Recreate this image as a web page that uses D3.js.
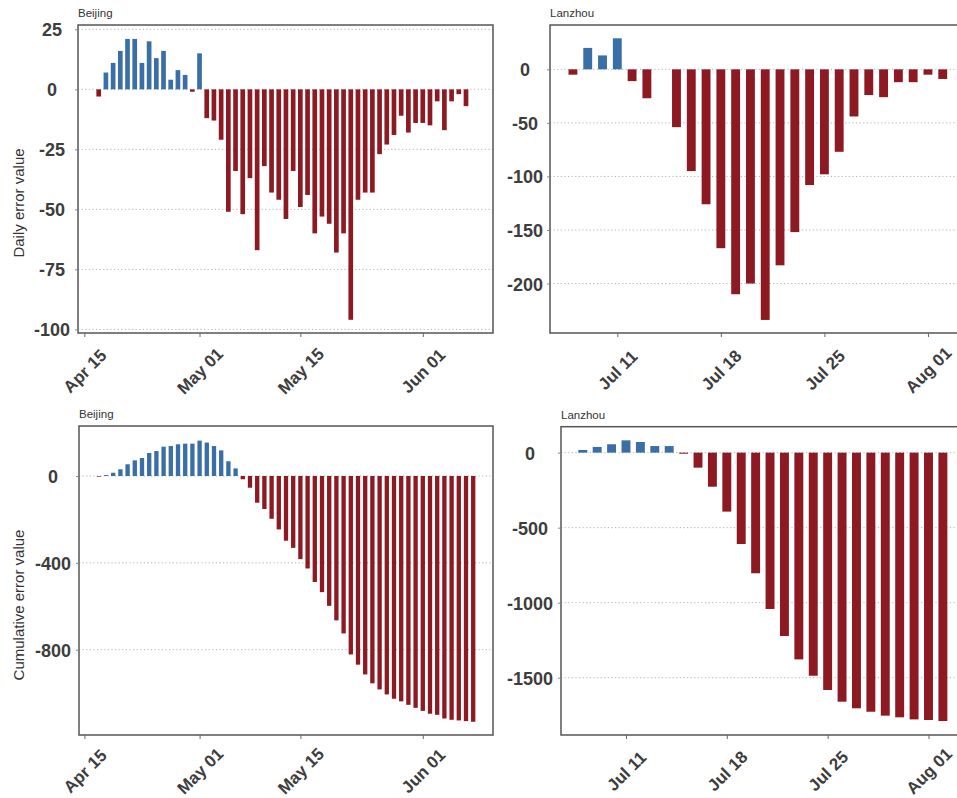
<!DOCTYPE html>
<html>
<head>
<meta charset="utf-8">
<script src="https://cdn.jsdelivr.net/npm/d3@7"></script>
<style>
  body { margin: 0; background: #fff; }
  svg { display: block; font-family: "Liberation Sans", Arial, sans-serif; }
</style>
</head>
<body>
<script>
// ---- data ----
let bjDailyStart = "2022-04-17";
let bjDaily = [-3, 7, 11, 16, 21, 21, 11, 20, 13, 16, 4, 8, 6, -1, 15,
  -12, -13, -21, -51, -34, -52, -37, -67, -32, -43, -46, -54, -34, -49, -44,
  -60, -53, -56, -68, -60, -96, -46, -43, -43, -27, -23, -19, -11, -18, -14,
  -14, -15, -5, -17, -5, -2, -7];

let bjCumStart = "2022-04-17";
let bjCum = [-3, 4, 15, 31, 54, 72, 83, 106, 115, 135, 138, 146, 149, 149, 163,
  154, 138, 118, 68, 35, -15, -54, -123, -152, -197, -246, -298, -331, -383, -426,
  -488, -535, -598, -665, -725, -822, -869, -914, -955, -983, -1006, -1026, -1038, -1054, -1068,
  -1082, -1095, -1100, -1117, -1123, -1126, -1129, -1132];

let lzDailyStart = "2022-07-08";
let lzDaily = [-5, 20, 13, 29, -11, -27, 0, -54, -95, -126, -167, -210, -200, -234,
  -183, -152, -108, -98, -77, -44, -24, -26, -12, -12, -5, -9];

let lzCumStart = "2022-07-08";
let lzCum = [18, 38, 56, 82, 71, 44, 44, -7, -100, -227, -393, -609, -804, -1042,
  -1222, -1378, -1487, -1582, -1660, -1704, -1727, -1753, -1764, -1778, -1782, -1789];

let bjTicks = ["2022-04-15", "2022-05-01", "2022-05-15", "2022-06-01"];
let lzTicks = ["2022-07-11", "2022-07-18", "2022-07-25", "2022-08-01"];
let bjDailyY = [25, 0, -25, -50, -75, -100];
let lzDailyY = [0, -50, -100, -150, -200];
let bjCumY = [0, -400, -800];
let lzCumY = [0, -500, -1000, -1500];

// ---- drawing ----
let w = 957, h = 798;
let blue = "#3a6ea7", red = "#8d1a23";
let parse = d3.timeParse("%Y-%m-%d %H:%M");
let parseDay = d3.timeParse("%Y-%m-%d");
let fmt = d3.timeFormat("%b %d");

let svg = d3.select("body").append("svg")
  .attr("width", w)
  .attr("height", h);

function panel(p) {
  let start = parseDay(p.start);
  let dates = d3.timeDay.range(start, d3.timeDay.offset(start, p.values.length));
  let data = dates.map((d, i) => ({date: d, v: p.values[i]}));

  let x = d3.scaleTime()
    .domain([parse(p.xDom[0]), parse(p.xDom[1])])
    .range([p.left, p.right]);
  let y = d3.scaleLinear()
    .domain(p.yDom)
    .range([p.bottom, p.top]);

  let g = svg.append("g");

  // dotted grid
  g.selectAll("line.grid")
    .data(p.yTicks)
    .enter()
    .append("line")
    .attr("class", "grid")
    .attr("x1", p.left)
    .attr("x2", Math.min(p.right, w))
    .attr("y1", d => y(d))
    .attr("y2", d => y(d))
    .attr("stroke", "#b3b3b3")
    .attr("stroke-width", 1)
    .attr("stroke-dasharray", "1.2,2.4");

  let dayW = x(d3.timeDay.offset(start, 1)) - x(start);
  let bw = dayW * p.barFrac;

  g.selectAll("rect.bar")
    .data(data.filter(d => d.v !== 0))
    .enter()
    .append("rect")
    .attr("class", "bar")
    .attr("x", d => x(d.date) - bw / 2)
    .attr("width", bw)
    .attr("y", d => y(Math.max(0, d.v)))
    .attr("height", d => Math.abs(y(d.v) - y(0)))
    .attr("fill", d => d.v > 0 ? blue : red);

  // box
  g.append("rect")
    .attr("x", p.left)
    .attr("y", p.top)
    .attr("width", p.right - p.left)
    .attr("height", p.bottom - p.top)
    .attr("fill", "none")
    .attr("stroke", "#555")
    .attr("stroke-width", 1.5);

  let yAxis = d3.axisLeft(y)
    .tickValues(p.yTicks)
    .tickFormat(d => String(d))
    .tickSize(3)
    .tickPadding(0);
  let ya = g.append("g")
    .attr("transform", "translate(" + p.left + ",0)")
    .call(yAxis);
  ya.select(".domain").remove();
  ya.selectAll(".tick line").attr("stroke", "#888");
  ya.selectAll(".tick text")
    .attr("x", p.labelX - p.left)
    .attr("text-anchor", "middle")
    .attr("dy", "0.36em")
    .attr("fill", "#3d3d3d")
    .style("font-size", "18px")
    .style("font-weight", "bold")
    .style("font-family", "Liberation Sans, Arial, sans-serif");

  let xAxis = d3.axisBottom(x)
    .tickValues(p.xTicks.map(parseDay))
    .tickFormat(fmt)
    .tickSize(4);
  let xa = g.append("g")
    .attr("transform", "translate(0," + p.bottom + ")")
    .call(xAxis);
  xa.select(".domain").remove();
  xa.selectAll(".tick line").attr("stroke", "#666");
  xa.selectAll(".tick text")
    .attr("x", 0)
    .attr("y", 0)
    .attr("dy", "0.35em")
    .attr("text-anchor", "middle")
    .attr("transform", "translate(0," + p.labelDy + ") rotate(-45)")
    .attr("fill", "#3d3d3d")
    .style("font-size", "17px")
    .style("font-weight", "bold")
    .style("font-family", "Liberation Sans, Arial, sans-serif");

  // small city title
  svg.append("text")
    .attr("x", p.left)
    .attr("y", p.top - 8)
    .attr("fill", "#333")
    .style("font-size", "11.5px")
    .text(p.title);

  if (p.yTitle) {
    svg.append("text")
      .attr("transform", "translate(" + 24 + "," + p.yTitleY + ") rotate(-90)")
      .attr("text-anchor", "middle")
      .attr("fill", "#333")
      .style("font-size", "15px")
      .text(p.yTitle);
  }
}

panel({
  title: "Beijing", start: bjDailyStart, values: bjDaily,
  xDom: ["2022-04-14 03:00", "2022-06-10 18:00"], xTicks: bjTicks,
  yDom: [-101.5, 26.8], yTicks: bjDailyY,
  left: 78, right: 493, top: 25, bottom: 333,
  labelX: 52, labelDy: 38, barFrac: 0.65,
  yTitle: "Daily error value", yTitleY: 203
});

panel({
  title: "Lanzhou", start: lzDailyStart, values: lzDaily,
  xDom: ["2022-07-06 10:48", "2022-08-03 04:00"], xTicks: lzTicks,
  yDom: [-246.2, 41.4], yTicks: lzDailyY,
  left: 550, right: 960, top: 25, bottom: 333,
  labelX: 525, labelDy: 37, barFrac: 0.6
});

panel({
  title: "Beijing", start: bjCumStart, values: bjCum,
  xDom: ["2022-04-14 06:00", "2022-06-10 18:00"], xTicks: bjTicks,
  yDom: [-1193, 230.3], yTicks: bjCumY,
  left: 79, right: 493, top: 426, bottom: 735,
  labelX: 53, labelDy: 36, barFrac: 0.6,
  yTitle: "Cumulative error value", yTitleY: 605
});

panel({
  title: "Lanzhou", start: lzCumStart, values: lzCum,
  xDom: ["2022-07-06 11:45", "2022-08-03 04:30"], xTicks: lzTicks,
  yDom: [-1882, 173], yTicks: lzCumY,
  left: 561, right: 960, top: 426.7, bottom: 735,
  labelX: 530, labelDy: 36, barFrac: 0.62
});
</script>
</body>
</html>
